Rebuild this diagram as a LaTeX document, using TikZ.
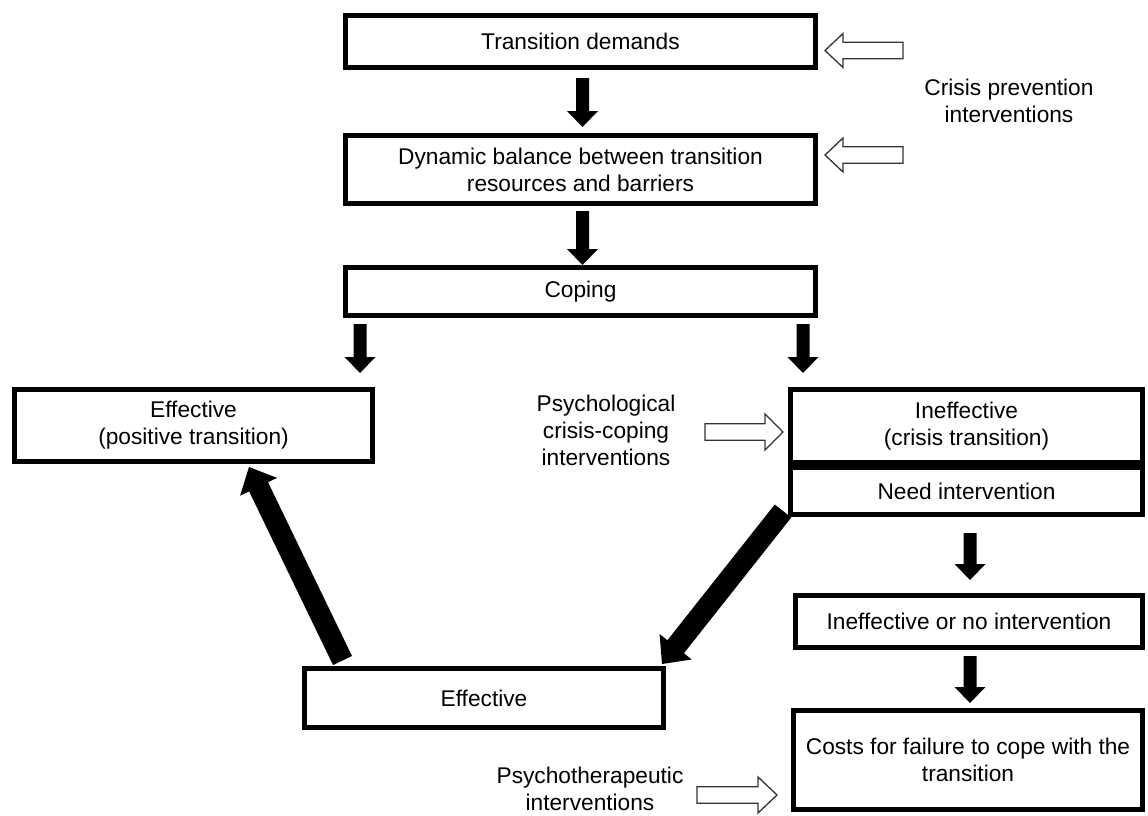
\documentclass[tikz,border=0pt]{standalone}
\usepackage{fontspec}
\setmainfont{Liberation Sans}
\usetikzlibrary{calc}

% Block arrow from tail #2 to tip #3, drawn as a closed outline.
% #1 style, #4 half shaft width, #5 half head width, #6 head length
\newcommand\blockarrow[6]{%
  \coordinate (ba-h) at ($(#3)!#6!(#2)$);
  \path[#1] ($(#2)!#4!90:(#3)$) -- ($(ba-h)!#4!90:(#3)$)
    -- ($(ba-h)!#5!90:(#3)$) -- (#3)
    -- ($(ba-h)!#5!-90:(#3)$) -- ($(ba-h)!#4!-90:(#3)$)
    -- ($(#2)!#4!-90:(#3)$) -- cycle;
}

\tikzset{
  txt/.style={font=\fontsize{22.7pt}{27pt}\selectfont, align=center, inner sep=0pt},
  box/.style={txt, draw=black, line width=5pt, fill=white},
  solidarrow/.style={fill=black},
  hollowarrow/.style={draw=black!80, line width=1.3pt, fill=white, line join=miter},
}

\begin{document}
\begin{tikzpicture}[x=1pt, y=1pt]
\useasboundingbox (0,0) rectangle (1148,-816);

% main chain
\node[box, minimum width=470pt, minimum height=52pt] (td)  at (580.5,-41.5) {Transition demands};
\node[box, minimum width=470pt, minimum height=68pt] (dyn) at (580.5,-169.5) {Dynamic balance between transition\\resources and barriers};
\node[box, minimum width=470pt, minimum height=48pt] (cop) at (580.5,-291.5) {Coping};

% outcomes
\node[box, minimum width=358pt, minimum height=72pt] (epos)  at (193.5,-425.5) {Effective\\(positive transition)};
\node[box, minimum width=352pt, minimum height=73pt] (ineff) at (966.5,-426) {Ineffective\\(crisis transition)};
\node[box, minimum width=352pt, minimum height=47pt] (need)  at (966.5,-491) {Need intervention};
\node[box, minimum width=347pt, minimum height=52pt] (ino)   at (969,-621.5) {Ineffective or no intervention};
\node[box, minimum width=349pt, minimum height=99pt] (cost)  at (968,-760) {Costs for failure to cope with the\\transition};
\node[box, minimum width=359pt, minimum height=59pt] (eff)   at (484,-698) {Effective};

% intervention labels
\node[txt] (prev)  at (1009,-101) {Crisis prevention\\interventions};
\node[txt] (psych) at (606,-430) {Psychological\\crisis-coping\\interventions};
\node[txt] (ther)  at (590,-789) {Psychotherapeutic\\interventions};

% solid arrows along the chain
\coordinate (a1s) at ([xshift=2pt,yshift=-8pt]td.south);
\coordinate (a1e) at ([xshift=2pt,yshift=6pt]dyn.north);
\blockarrow{solidarrow}{a1s}{a1e}{6.5pt}{15.5pt}{16pt}

\coordinate (a2s) at ([xshift=2pt,yshift=-5pt]dyn.south);
\coordinate (a2e) at ([xshift=2pt]cop.north);
\blockarrow{solidarrow}{a2s}{a2e}{6.5pt}{15.5pt}{16pt}

\coordinate (a3s) at ([xshift=17pt,yshift=-6pt]cop.south west);
\coordinate (a3e) at ([xshift=17pt,yshift=-55pt]cop.south west);
\blockarrow{solidarrow}{a3s}{a3e}{6.5pt}{15.5pt}{16pt}

\coordinate (a4s) at ([xshift=-15pt,yshift=-6pt]cop.south east);
\coordinate (a4e) at ([xshift=15pt,yshift=14pt]ineff.north west);
\blockarrow{solidarrow}{a4s}{a4e}{6.5pt}{15.5pt}{16pt}

\coordinate (a5s) at ([xshift=3.5pt,yshift=-16pt]need.south);
\coordinate (a5e) at ([xshift=1pt,yshift=13pt]ino.north);
\blockarrow{solidarrow}{a5s}{a5e}{6.5pt}{15.5pt}{16pt}

\coordinate (a6s) at ([xshift=1pt,yshift=-6pt]ino.south);
\coordinate (a6e) at ([xshift=2pt,yshift=5pt]cost.north);
\blockarrow{solidarrow}{a6s}{a6e}{6.5pt}{15.5pt}{16pt}

% heavy arrows back to the effective outcome
\coordinate (b1s) at ([xshift=-5pt,yshift=6pt]need.south west);
\coordinate (b1e) at ([xshift=-4pt,yshift=2pt]eff.north east);
\blockarrow{solidarrow}{b1s}{b1e}{10.5pt}{20.5pt}{22pt}

\coordinate (b2s) at ([xshift=40.5pt,yshift=5.5pt]eff.north west);
\coordinate (b2e) at ([xshift=55.5pt,yshift=-3pt]epos.south);
\blockarrow{solidarrow}{b2s}{b2e}{10.5pt}{20.5pt}{22pt}

% hollow intervention arrows
\coordinate (h1s) at (903,-50.5);
\coordinate (h1e) at ([xshift=7pt,yshift=-9pt]td.east);
\blockarrow{hollowarrow}{h1s}{h1e}{8.3pt}{17pt}{18pt}

\coordinate (h2s) at (903,-155);
\coordinate (h2e) at ([xshift=7pt,yshift=14.5pt]dyn.east);
\blockarrow{hollowarrow}{h2s}{h2e}{8.3pt}{17pt}{18pt}

\coordinate (h3s) at (705,-432);
\coordinate (h3e) at ([xshift=-5pt,yshift=-6pt]ineff.west);
\blockarrow{hollowarrow}{h3s}{h3e}{8.3pt}{18pt}{18pt}

\coordinate (h4s) at (697,-795);
\coordinate (h4e) at ([xshift=-14pt,yshift=-35pt]cost.west);
\blockarrow{hollowarrow}{h4s}{h4e}{8.3pt}{18pt}{19pt}
\end{tikzpicture}
\end{document}
